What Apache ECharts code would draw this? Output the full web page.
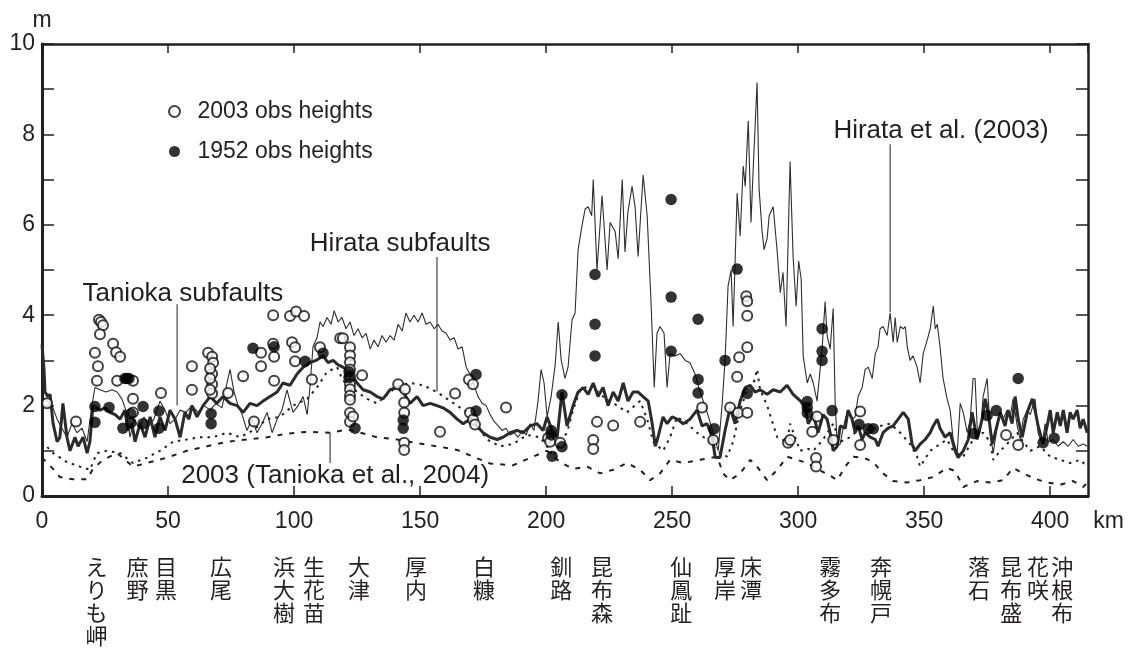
<!DOCTYPE html>
<html>
<head>
<meta charset="utf-8">
<script src="https://cdn.jsdelivr.net/npm/echarts@6/dist/echarts.min.js"></script>
<style>
html, body { margin: 0; padding: 0; background: #fff; }
#chart { width: 1131px; height: 648px; }
</style>
</head>
<body>
<div id="chart"></div>
<script>
// Distance along the coast (km) vs. tsunami height (m)

// Thin line: Hirata et al. (2003)
const hirata2003 = [[0,2.2],[2,2.1],[4,2.0],[6,1.7],[7.9,1.5],[9.9,1.3],[11.9,1.6],[13.9,1.4],[15.9,1.5],[17.9,1.2],[19.8,2.0],[21,2.4],[23,2.35],[25.4,2.3],[27.8,2.35],[29.8,2.3],[31.7,2.15],[33.3,1.9],[34.9,1.3],[36.5,1.7],[38.5,1.5],[40.5,1.75],[42.5,1.55],[44.4,1.7],[46.8,2.1],[48.8,1.9],[50.8,1.6],[52.8,1.7],[54.8,1.9],[57.1,1.85],[59.5,2.0],[61.9,1.85],[64.3,2.0],[66.7,1.9],[69,2.05],[71.4,1.95],[73,2.4],[74.6,2.8],[76.2,2.3],[77.8,2.0],[79.4,1.8],[81.3,1.45],[83.3,1.7],[85.3,1.4],[87.3,1.6],[89.3,1.85],[91.3,1.4],[93.3,1.7],[95.2,1.9],[97.2,2.35],[99.6,1.85],[101.6,2.0],[103.6,2.2],[105.2,1.8],[106.3,2.4],[107.5,3.3],[109.1,3.5],[110.3,3.85],[111.5,3.75],[113.1,3.95],[114.7,3.8],[115.9,4.1],[117.5,3.85],[119,3.95],[120.6,3.7],[122.2,3.85],[123.8,3.55],[125.4,3.7],[127,3.5],[128.6,3.6],[130.2,3.25],[131.7,3.45],[133.3,3.3],[134.9,3.55],[136.5,3.4],[138.1,3.55],[139.7,3.45],[141.3,3.8],[142.9,3.65],[144.4,4.05],[146,3.85],[147.6,4.0],[149.2,3.85],[150.8,4.05],[152.4,3.8],[154,3.85],[155.6,3.7],[157.1,3.8],[158.7,3.65],[160.3,3.6],[161.9,3.45],[163.5,3.5],[165.1,3.25],[166.7,3.3],[168.3,2.85],[169.8,2.7],[171.4,2.45],[173,2.2],[174.6,2.05],[176.2,2.0],[177.8,1.8],[179.4,1.65],[181,1.55],[182.5,1.45],[184.1,1.5],[185.7,1.35],[187.3,1.4],[188.9,1.3],[190.5,1.45],[192.1,1.35],[193.7,1.6],[195.2,1.45],[196.8,2.1],[198,2.8],[199.2,2.5],[200.4,1.75],[202,2.2],[203.6,2.9],[204.8,3.85],[206,3.0],[207.5,2.6],[208.7,2.85],[210.3,3.9],[211.5,4.05],[212.7,5.45],[214.3,6.0],[215.5,6.35],[216.7,6.4],[218.1,6.2],[218.7,7.0],[220.2,5.0],[222.2,6.65],[224.2,5.0],[225.4,6.05],[227.4,5.85],[228.6,5.25],[230.2,7.0],[231.3,5.4],[232.5,6.3],[234.1,6.85],[235.3,6.4],[236.5,5.3],[238.5,7.1],[240.1,6.2],[241.7,4.2],[242.9,2.4],[244,3.6],[245.2,3.75],[246.8,3.6],[248,2.4],[249.2,3.15],[251.2,3.1],[253.2,3.15],[255.2,3.0],[257.1,2.95],[259.1,2.7],[261.1,2.3],[263.9,1.85],[266.3,1.4],[268.3,1.0],[269.8,2.0],[271,3.0],[272.2,4.65],[273.4,5.0],[274.2,3.75],[275.8,6.7],[277,5.75],[278.2,7.3],[279,6.85],[280.2,8.3],[281.3,6.05],[282.1,7.15],[283.7,9.15],[284.5,6.8],[285.7,5.85],[286.5,5.45],[287.7,5.7],[288.5,6.2],[290.1,6.4],[291.7,5.4],[292.9,4.5],[294,4.95],[295.2,3.75],[296.8,7.4],[298,5.3],[299.2,4.2],[300.2,5.2],[301.2,4.8],[302,3.1],[303.6,2.5],[304.8,2.7],[306,2.5],[307.5,2.1],[309.5,3.25],[310.7,4.3],[311.5,3.55],[312.7,3.25],[313.9,4.15],[314.7,2.05],[315.5,1.1],[316.7,1.15],[317.5,1.4],[318.7,1.7],[319.8,1.9],[321.4,1.7],[322.6,1.75],[323.8,2.2],[325.4,2.4],[326.6,2.8],[327.8,2.85],[329.4,2.6],[330.6,3.15],[331.7,3.3],[332.5,3.7],[333.7,3.75],[335.3,3.55],[336.5,4.05],[337.7,3.4],[338.5,3.95],[339.3,3.4],[340.5,3.75],[341.7,3.7],[342.5,3.75],[343.3,3.3],[344.4,3.0],[345.6,3.1],[347.2,2.85],[348.4,2.5],[349.6,3.15],[351.2,3.45],[352.4,3.7],[353.6,4.2],[354.4,3.7],[355.2,3.8],[356.3,3.3],[357.5,2.6],[359.1,2.15],[360.3,1.9],[361.5,1.25],[363.1,0.95],[364.3,2.05],[365.5,1.85],[367.1,1.4],[368.3,1.7],[369.4,2.6],[370.2,2.6],[371,1.55],[372.2,1.4],[373.4,2.2],[375,2.6],[376.2,1.4],[377.4,0.95],[379,1.55],[380.2,1.85],[381.3,1.7],[382.9,1.9],[384.1,1.75],[385.3,2.15],[386.9,1.55],[388.1,1.25],[389.3,1.7],[390.9,1.9],[392.1,1.8],[394,2.15],[395.2,1.4],[396.8,1.15],[398,1.6],[399.2,1.2],[401.2,1.25],[403.2,1.1],[405.2,1.2],[407.1,1.1],[409.1,1.25],[411.1,1.1],[413.1,1.15],[414.7,1.1]];

// Thick line: Tanioka subfaults
const taniokaSubfaults = [[0,3.35],[0.8,2.8],[1.2,2.3],[2.4,2.2],[3.2,2.25],[4.4,1.6],[6,1.2],[7.1,1.3],[8.3,2.05],[9.9,1.3],[11.1,1.0],[13.1,1.3],[14.3,1.1],[16.3,1.3],[17.9,0.95],[19,1.2],[20.2,2.0],[23,1.9],[25,1.95],[27,1.85],[29,1.8],[31,1.7],[32.9,1.9],[34.1,1.45],[35.7,1.6],[36.9,1.2],[38.9,1.6],[40.9,1.3],[42.9,1.75],[44.8,1.3],[46.8,1.75],[48.8,1.45],[50.8,1.9],[52.8,1.7],[54.8,1.3],[56.7,1.85],[58.3,1.7],[59.5,2.0],[61.5,1.75],[63.9,2.0],[66.7,2.2],[69.4,2.05],[71.8,2.2],[74.6,2.05],[77.4,2.0],[79.8,1.85],[82.5,2.05],[85.3,2.0],[87.7,2.1],[90.5,2.2],[93.3,2.3],[95.6,2.5],[98.4,2.45],[101.2,2.7],[103.6,2.85],[106.3,2.95],[108.7,3.0],[111.5,3.1],[113.5,2.95],[115.5,3.0],[117.5,2.9],[119.4,2.85],[122.2,2.75],[125,2.5],[127.4,2.35],[130.2,2.3],[132.9,2.2],[135.3,2.15],[138.1,2.35],[140.9,2.4],[143.3,2.3],[146,2.05],[148.8,2.2],[151.2,2.0],[154,2.05],[156.7,2.0],[159.1,1.95],[161.9,1.85],[164.7,1.7],[167.1,1.6],[169.8,1.7],[172.6,1.55],[175,1.4],[177.8,1.3],[180.6,1.25],[182.9,1.3],[185.7,1.4],[188.5,1.45],[190.9,1.4],[193.7,1.55],[196.4,1.6],[198.8,1.45],[200.4,1.75],[202.4,1.45],[204.4,1.3],[206.3,2.3],[208.3,1.55],[210.7,2.0],[212.7,2.3],[214.7,2.4],[216.7,2.25],[218.7,2.5],[220.6,2.2],[222.6,2.4],[224.6,2.0],[226.6,2.3],[228.6,2.1],[230.6,2.5],[232.5,2.1],[234.5,2.3],[236.5,2.3],[238.5,2.2],[240.5,2.1],[242.1,1.6],[243.3,1.1],[244.4,1.3],[246.4,1.75],[248,1.6],[250,1.75],[252,1.7],[254.4,1.6],[257.1,1.7],[259.9,1.9],[261.9,1.55],[263.9,1.6],[265.9,1.3],[267.1,0.85],[269,0.85],[271,1.45],[273,1.95],[275,1.6],[277,2.1],[279,2.4],[281,2.45],[282.9,2.3],[284.9,2.35],[287.7,2.25],[290.1,2.35],[292.9,2.3],[295.6,2.45],[298,2.25],[301,2.1],[302.8,1.95],[304,1.6],[306,1.8],[307.9,1.4],[309.9,1.8],[311.5,1.7],[312.7,1.4],[313.9,1.0],[315.5,1.1],[316.7,1.55],[318.7,1.5],[319.8,1.9],[321.4,1.7],[322.6,1.4],[323.8,1.55],[325.4,1.25],[326.6,1.4],[328.6,1.3],[330.6,1.25],[331.7,1.1],[333.7,1.4],[335.7,1.5],[337.7,1.55],[339.7,1.7],[341.7,1.85],[343.7,1.7],[345.2,1.15],[346.4,1.0],[348.4,1.15],[350.4,1.25],[352.4,1.4],[353.6,1.55],[355.2,1.7],[356.3,1.5],[358.3,1.3],[360.3,1.4],[362.3,1.0],[363.5,0.85],[365.5,1.0],[367.5,1.25],[369,1.85],[371,1.25],[373,1.7],[374.2,2.15],[375.4,1.85],[377,1.15],[378.2,1.4],[380.2,1.85],[382.1,1.55],[383.3,1.9],[384.9,1.6],[386.1,2.2],[387.3,1.7],[388.9,1.3],[390.9,1.85],[392.9,2.15],[394,1.9],[395.2,1.55],[397.2,1.15],[398.8,1.55],[400,1.9],[401.2,1.4],[402.8,1.85],[404,1.55],[405.2,1.9],[406.7,1.4],[407.9,1.85],[409.1,1.7],[410.7,1.9],[411.9,1.5],[413.1,1.7],[414.7,1.4]];

// Dotted line: Hirata subfaults
const hirataSubfaults = [[0,1.2],[4.4,0.95],[9.9,0.75],[15.1,0.65],[19,0.58],[21.8,0.95],[25.8,1.0],[31,0.95],[36.1,0.73],[41.7,0.85],[46.8,1.0],[52,1.2],[57.5,1.25],[62.7,1.3],[67.9,1.3],[73.4,1.4],[78.6,1.3],[83.7,1.45],[89.3,1.7],[94.4,1.75],[99.6,2.0],[105.2,2.15],[109.1,2.4],[113.1,2.75],[117.1,2.85],[119.4,2.55],[122.2,2.45],[125,2.3],[129,2.15],[132.9,2.05],[136.1,2.2],[139.3,2.35],[142.1,2.45],[146,2.5],[151.2,2.45],[156.7,2.3],[160.7,2.15],[164.7,2.0],[168.7,1.85],[172.6,1.55],[176.6,1.25],[181.7,1.1],[186.9,1.15],[192.5,1.35],[197.6,1.3],[200.4,1.1],[202.8,0.87],[205.6,1.2],[208.3,1.4],[210.7,1.9],[213.5,2.35],[217.5,2.45],[222.6,2.2],[228.2,2.0],[232.1,1.85],[237.3,2.1],[240.1,1.7],[242.5,1.2],[246.4,1.0],[249.2,1.3],[252,1.75],[256,1.6],[259.9,1.4],[263.9,1.25],[267.9,1.0],[271.8,0.87],[274.2,1.2],[277,1.9],[279.8,2.35],[282.1,2.45],[283.7,2.8],[284.9,2.35],[287.7,2.0],[291.7,1.3],[295.6,1.2],[296.8,1.6],[300.8,1.0],[303.6,1.05],[306,1.0],[309.9,1.25],[313.9,1.6],[316.7,1.2],[320.6,1.3],[324.6,1.5],[328.6,1.45],[332.5,1.55],[336.5,1.6],[340.5,1.4],[344.4,1.15],[347.2,0.87],[348.4,0.65],[352.4,1.0],[356.3,1.15],[359.1,1.25],[361.5,1.0],[365.5,0.87],[369.4,1.25],[373.4,1.4],[376.2,1.2],[377.4,0.8],[380.2,1.0],[382.9,1.15],[386.9,1.4],[389.3,1.2],[392.1,1.0],[396,1.1],[400,0.87],[404,0.8],[407.9,0.73],[411.9,0.8],[414.7,0.65]];

// Dashed line: 2003 (Tanioka et al., 2004)
const tanioka2004 = [[0,0.85],[4.4,0.6],[7.1,0.42],[12.3,0.37],[17.9,0.37],[20.2,0.6],[24.2,0.8],[29.8,0.95],[36.1,0.65],[41.7,0.73],[49.6,0.85],[57.5,1.0],[65.5,1.1],[73.4,1.2],[81.3,1.25],[89.3,1.3],[97.2,1.38],[105.2,1.42],[114.3,1.4],[121,1.47],[125,1.42],[132.9,1.3],[140.9,1.25],[148.8,1.17],[156.7,1.1],[164.7,1.02],[171,0.87],[177.8,0.72],[186.9,0.68],[194.8,0.87],[200.4,1.0],[205.6,0.75],[210.7,0.6],[216.3,0.65],[221.4,0.5],[226.6,0.58],[232.1,0.73],[237.3,0.58],[241.3,0.35],[245.2,0.5],[249.2,0.8],[254.4,0.73],[261.1,0.8],[267.9,0.87],[270.2,0.5],[273,0.35],[277,0.5],[281,0.8],[283.7,0.65],[287.7,0.35],[291.7,0.58],[295.6,0.87],[299.6,0.8],[303.6,0.73],[307.5,0.6],[312.7,0.45],[315.5,0.35],[318.7,0.65],[321.8,0.87],[325.8,0.85],[329.8,0.75],[333.7,0.5],[337.7,0.33],[343.3,0.3],[348.4,0.35],[353.6,0.42],[359.1,0.62],[362.3,0.55],[365.5,0.2],[371,0.33],[376.2,0.3],[381.3,0.35],[385.3,0.62],[389.3,0.5],[394,0.38],[398.8,0.3],[404,0.25],[409.1,0.33],[413.1,0.2],[414.7,0.3]];

// Observed heights, 2003 (open circles)
const obs2003 = [[2,2.05],[13.5,1.65],[21,3.17],[21.8,2.55],[22.2,2.87],[22.6,3.9],[23.4,3.85],[24.2,3.78],[23,3.58],[28.2,3.37],[29.4,3.18],[31,3.08],[29.8,2.55],[36.1,2.55],[36.1,2.15],[36.1,1.85],[47.2,2.28],[59.5,2.87],[59.5,2.35],[65.9,3.17],[67.5,3.08],[67.5,2.7],[67.5,2.47],[67.5,2.27],[67.9,2.95],[66.7,2.82],[66.7,2.6],[66.7,2.35],[73.8,2.28],[79.8,2.65],[84.1,1.65],[86.9,3.17],[86.9,2.87],[91.7,4.0],[91.7,3.37],[92.1,3.08],[92.1,2.55],[98.4,3.98],[100.8,4.08],[104,3.98],[99.2,3.4],[100.4,3.29],[100.4,2.98],[107.1,2.58],[110.3,3.29],[118.3,3.49],[119.4,3.49],[122.2,3.29],[122.2,3.11],[122.2,2.96],[122.2,2.8],[122.2,2.65],[122.2,2.47],[122.2,2.36],[122.2,2.22],[122.2,2.13],[122.2,1.84],[122.2,1.64],[123.4,1.76],[127,2.67],[141.3,2.47],[144,2.36],[143.7,2.07],[143.7,1.84],[143.7,1.18],[143.7,1.02],[157.9,1.42],[163.9,2.27],[169.4,2.58],[171,2.47],[169.8,1.84],[171,1.69],[171.8,1.58],[184.1,1.96],[200.8,1.29],[201.6,1.2],[205.6,1.18],[218.7,1.24],[218.7,1.04],[220.2,1.64],[226.6,1.56],[237.3,1.64],[261.9,1.96],[266.3,1.24],[273,1.96],[276.2,1.84],[275.8,2.64],[276.6,3.07],[279.8,3.29],[279.8,1.84],[279.4,4.42],[279.8,4.31],[279.8,3.99],[296,1.18],[296.8,1.24],[305.6,1.42],[307.5,1.76],[307.1,0.84],[307.1,0.65],[313.9,1.24],[324.6,1.87],[324.6,1.13],[382.5,1.35],[387.3,1.13]];

// Observed heights, 1952 (filled circles)
const obs1952 = [[21,1.98],[21,1.63],[26.6,1.96],[32.1,1.5],[32.9,2.6],[33.7,2.6],[34.5,2.6],[35.3,1.82],[35.3,1.62],[40.1,1.98],[40.1,1.6],[46.4,1.88],[46.4,1.5],[67.1,1.82],[67.1,1.6],[83.7,3.27],[92.1,3.3],[104.4,2.98],[111.5,3.16],[121.8,2.75],[121.8,2.62],[124.2,1.5],[143.3,1.68],[143.3,1.5],[172.2,2.69],[172.2,1.88],[202,1.45],[202,1.35],[202.4,0.88],[206.3,1.09],[206.3,2.24],[219.4,4.9],[219.4,3.8],[219.4,3.1],[249.6,6.56],[249.6,4.4],[249.6,3.2],[260.3,3.91],[260.3,2.58],[260.3,2.28],[266.7,1.49],[271,3.0],[275.8,5.02],[279.8,2.27],[303.6,2.09],[303.6,1.96],[303.6,1.84],[309.5,3.7],[309.5,3.2],[309.5,3.0],[313.5,1.89],[324.2,1.58],[327.8,1.49],[329.8,1.49],[369.8,1.38],[375,1.78],[378.6,1.89],[387.3,2.6],[397.2,1.18],[401.6,1.28]];

// Place names along the coast (label position in km)
const stationNames = ['えりも岬','庶野','目黒','広尾','浜大樹','生花苗','大津','厚内','白糠','釧路','昆布森','仙鳳趾','厚岸','床潭','霧多布','奔幌戸','落石','昆布盛','花咲','沖根布'];
const stationKm = [21.6,37.9,49.2,71.0,96.0,107.9,125.8,148.4,175.4,206.0,222.2,253.6,271.0,281.3,312.7,332.9,371.8,384.5,395.2,404.8];

// Curve annotations: text centre (km, m) and leader line (km, m from, m to)
const noteTexts = ['Tanioka subfaults','Hirata subfaults','Hirata et al. (2003)','2003 (Tanioka et al., 2004)'];
const noteTextAt = [[55.9,4.47],[142.1,5.58],[356.7,8.09],[116.3,0.44]];
const noteLeader = [[53.6,4.24,2.0],[156.7,5.29,2.31],[336.5,7.78,4.07],[114.3,1.4,0.73]];

const ink = '#231f20';
const latin = '"Liberation Sans", Arial, Helvetica, sans-serif';
const fs = 23;
const noteFs = 26;

const chart = echarts.init(document.getElementById('chart'), null, { renderer: 'canvas' });

const axisText = { color: ink, fontSize: fs, fontFamily: latin };

chart.setOption({
  animation: false,
  backgroundColor: '#fff',
  grid: { left: 42, right: 43, top: 44, bottom: 152, containLabel: false },
  legend: {
    data: ['2003 obs heights', '1952 obs heights'],
    orient: 'vertical',
    left: 163, top: 95,
    itemWidth: 36, itemHeight: 11, itemGap: 17,
    textStyle: { color: ink, fontSize: fs, fontFamily: latin },
    selectedMode: false
  },
  xAxis: [{
    type: 'value', min: 0, max: 415, interval: 50, position: 'bottom',
    axisLine: { show: true, onZero: false, lineStyle: { color: ink, width: 3 } },
    axisTick: { show: true, inside: true, length: 10, lineStyle: { color: ink, width: 1.5 } },
    axisLabel: Object.assign({ margin: 14, showMaxLabel: false,
      formatter: v => (v % 50 === 0 ? String(v) : '') }, axisText),
    splitLine: { show: false }
  }, {
    type: 'value', min: 0, max: 415, interval: 50, position: 'top',
    axisLine: { show: true, onZero: false, lineStyle: { color: ink, width: 2.5 } },
    axisTick: { show: true, inside: true, length: 9, lineStyle: { color: ink, width: 1.5 } },
    axisLabel: { show: false },
    splitLine: { show: false }
  }],
  yAxis: [{
    type: 'value', min: 0, max: 10, interval: 1, position: 'left',
    name: 'm', nameGap: 8, nameTextStyle: Object.assign({ align: 'center', padding: [0, 0, 0, 0] }, axisText),
    axisLine: { show: true, onZero: false, lineStyle: { color: ink, width: 3 } },
    axisTick: { show: true, inside: true, length: 12, lineStyle: { color: ink, width: 1.5 } },
    axisLabel: Object.assign({ margin: 7, formatter: v => (v % 2 === 0 ? String(v) : '') }, axisText),
    splitLine: { show: false }
  }, {
    type: 'value', min: 0, max: 10, interval: 1, position: 'right',
    axisLine: { show: true, onZero: false, lineStyle: { color: ink, width: 2.5 } },
    axisTick: { show: true, inside: true, length: 12, lineStyle: { color: ink, width: 1.5 } },
    axisLabel: { show: false },
    splitLine: { show: false }
  }],
  series: [
    { name: 'Hirata et al. (2003)', type: 'line', data: hirata2003, showSymbol: false, symbol: 'none',
      lineStyle: { color: '#2e2e2e', width: 1.1 }, z: 2 },
    { name: '2003 (Tanioka et al., 2004)', type: 'line', data: tanioka2004, showSymbol: false, symbol: 'none',
      lineStyle: { color: ink, width: 2, type: [5, 7] }, z: 2 },
    { name: 'Hirata subfaults', type: 'line', data: hirataSubfaults, showSymbol: false, symbol: 'none',
      lineStyle: { color: ink, width: 2, type: [2.5, 5] }, z: 2 },
    { name: 'Tanioka subfaults', type: 'line', data: taniokaSubfaults, showSymbol: false, symbol: 'none',
      lineStyle: { color: '#2b2b2b', width: 3 }, z: 3 },
    { name: '2003 obs heights', type: 'scatter', data: obs2003, symbol: 'circle', symbolSize: 10,
      itemStyle: { color: '#fff', borderColor: '#111', borderWidth: 2 }, z: 4 },
    { name: '1952 obs heights', type: 'scatter', data: obs1952, symbol: 'circle', symbolSize: 11.5,
      itemStyle: { color: '#000' }, z: 5 }
  ]
});

// Annotations, place names and the unit label, positioned through the axes
function drawAnnotations() {
  const toPx = (k, m) => chart.convertToPixel({ xAxisIndex: 0, yAxisIndex: 0 }, [k, m]);
  const els = [];
  stationNames.forEach((name, i) => {
    const p = toPx(stationKm[i], 0);
    els.push({
      type: 'text', x: p[0], y: p[1] + 59, silent: true,
      style: { text: Array.from(name).join('\n'), fill: ink,
        font: '22px "Noto Sans CJK JP", sans-serif', lineHeight: 23,
        align: 'center', verticalAlign: 'top' }
    });
  });
  noteTexts.forEach((t, i) => {
    const p = toPx(noteTextAt[i][0], noteTextAt[i][1]);
    els.push({
      type: 'text', x: p[0], y: p[1], silent: true,
      style: { text: t, fill: ink, font: noteFs + 'px ' + latin, align: 'center', verticalAlign: 'middle' }
    });
    const a = toPx(noteLeader[i][0], noteLeader[i][1]);
    const b = toPx(noteLeader[i][0], noteLeader[i][2]);
    els.push({
      type: 'line', silent: true,
      shape: { x1: a[0], y1: a[1], x2: b[0], y2: b[1] },
      style: { stroke: '#444', lineWidth: 1.2 }
    });
  });
  const k = toPx(400, 0);
  els.push({
    type: 'text', x: k[0] + 43, y: k[1] + 26, silent: true,
    style: { text: 'km', fill: ink, font: fs + 'px ' + latin, align: 'left', verticalAlign: 'middle' }
  });
  chart.setOption({ graphic: els });
}
drawAnnotations();
</script>
</body>
</html>
